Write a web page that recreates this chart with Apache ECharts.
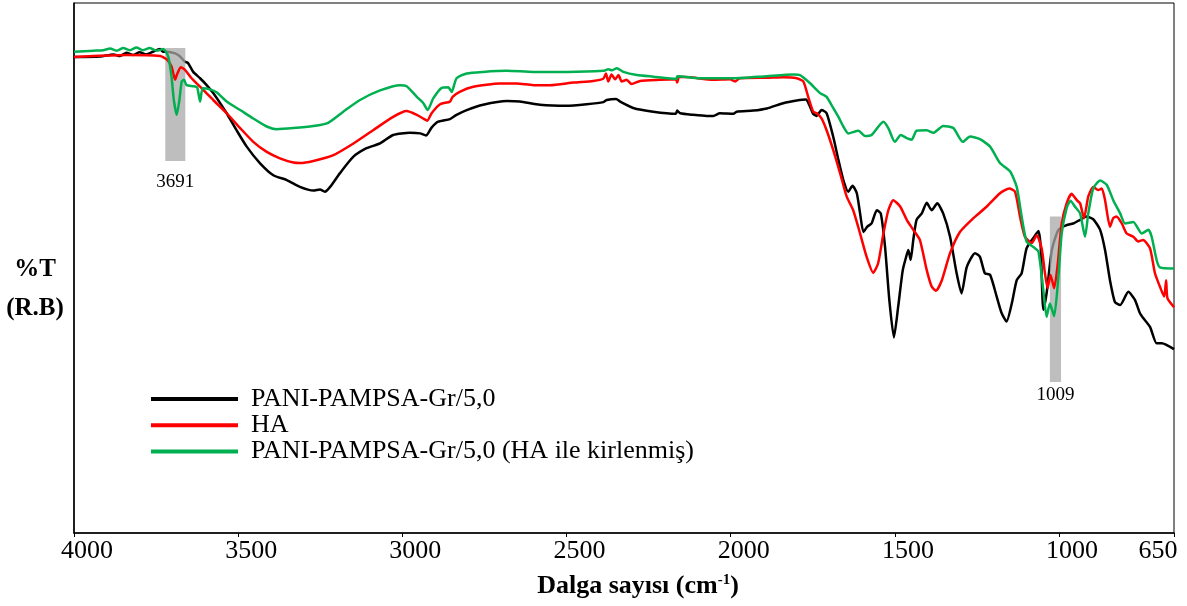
<!DOCTYPE html>
<html><head><meta charset="utf-8">
<script src="https://cdn.jsdelivr.net/npm/echarts/dist/echarts.min.js"></script>
<style>html,body{margin:0;padding:0;background:#fff}#c{width:1187px;height:606px}</style>
</head><body><div id="c"></div>
<script>
// ---- data: [wavenumber (cm-1), %T (relative)] ----
const seriesNames = ['PANI-PAMPSA-Gr/5,0', 'HA', 'PANI-PAMPSA-Gr/5,0 (HA ile kirlenmiş)'];

const black = [[4000,89.8],[3921,89.9],[3880,90.3],[3860,90.0],[3840,90.6],[3820,90.2],[3800,90.7],[3780,90.3],[3760,90.8],[3738,91.3],[3729,90.8],[3718,90.8],[3692,90.5],[3677,89.9],[3662,88.9],[3653,88.7],[3637,87.0],[3616,85.8],[3596,84.5],[3576,83.0],[3555,81.1],[3535,79.2],[3505,76.0],[3474,72.9],[3434,69.8],[3393,67.5],[3352,66.6],[3312,65.3],[3271,64.6],[3251,64.8],[3236,64.4],[3220,65.3],[3190,67.9],[3149,71.0],[3109,72.6],[3068,73.5],[3028,75.1],[2977,75.5],[2946,75.4],[2928,75.0],[2911,76.5],[2891,77.6],[2855,78.1],[2835,78.9],[2804,79.8],[2754,80.8],[2682,81.5],[2642,81.4],[2581,80.8],[2500,80.6],[2439,80.9],[2388,81.3],[2378,81.7],[2349,81.9],[2337,81.4],[2297,80.2],[2236,79.5],[2167,79.1],[2163,79.7],[2154,79.2],[2114,78.9],[2073,78.7],[2053,78.7],[2033,79.2],[1992,79.1],[1982,79.5],[1931,79.7],[1890,80.1],[1840,81.1],[1799,81.6],[1771,81.8],[1761,80.8],[1749,79.1],[1739,78.7],[1723,79.8],[1708,79.2],[1688,74.8],[1672,70.4],[1657,66.6],[1642,64.4],[1629,65.5],[1616,64.1],[1606,60.3],[1596,56.8],[1584,57.8],[1571,58.4],[1555,60.9],[1543,60.3],[1530,54.0],[1517,44.0],[1503,36.9],[1490,42.7],[1476,49.6],[1464,52.5],[1459,53.4],[1452,51.5],[1444,55.3],[1434,59.1],[1418,60.3],[1403,62.3],[1388,60.9],[1371,62.2],[1353,60.3],[1332,55.9],[1312,49.0],[1297,45.2],[1281,50.2],[1256,52.8],[1241,52.1],[1226,49.0],[1210,48.7],[1190,44.6],[1175,41.5],[1160,39.9],[1144,43.3],[1129,47.7],[1114,49.0],[1099,53.7],[1079,55.6],[1063,57.0],[1056,54.0],[1048,42.1],[1038,45.2],[1022,53.4],[1002,57.2],[977,58.1],[957,58.4],[936,59.1],[916,59.7],[896,59.2],[875,57.2],[860,53.4],[845,47.7],[830,43.6],[814,43.0],[789,45.5],[769,44.0],[754,41.5],[743,40.5],[723,38.9],[703,35.8],[687,35.8],[650,34.7]];

const red = [[4000,89.8],[3941,90.0],[3840,90.2],[3738,90.0],[3718,89.4],[3703,88.0],[3692,85.5],[3687,86.4],[3675,87.9],[3662,87.4],[3642,85.8],[3616,84.2],[3576,81.7],[3535,79.2],[3494,76.4],[3454,73.8],[3413,71.9],[3373,70.7],[3332,69.9],[3312,69.8],[3271,70.2],[3210,71.3],[3149,73.5],[3089,76.0],[3028,78.5],[2987,79.6],[2956,78.9],[2936,78.2],[2924,77.8],[2911,79.2],[2885,80.9],[2855,81.4],[2847,82.3],[2824,83.3],[2784,84.2],[2703,84.8],[2652,84.8],[2601,84.5],[2550,84.5],[2479,85.0],[2419,85.3],[2388,85.7],[2380,86.7],[2373,85.2],[2363,86.5],[2352,85.6],[2342,86.4],[2332,85.2],[2317,85.5],[2302,84.7],[2276,85.3],[2215,85.5],[2167,85.6],[2163,85.0],[2157,86.1],[2124,86.0],[2053,85.5],[2002,85.6],[1987,85.2],[1972,85.8],[1890,85.9],[1840,86.0],[1799,85.8],[1779,85.2],[1764,82.3],[1749,79.5],[1738,79.2],[1723,78.2],[1708,76.0],[1688,72.3],[1667,67.9],[1647,63.5],[1627,60.9],[1606,56.5],[1586,52.1],[1566,49.1],[1551,50.9],[1535,56.5],[1520,60.9],[1505,62.8],[1484,61.6],[1464,59.1],[1444,57.2],[1424,55.3],[1403,49.6],[1388,46.5],[1375,45.7],[1357,47.7],[1332,52.8],[1302,56.8],[1261,59.4],[1220,61.6],[1180,64.1],[1152,65.0],[1134,64.4],[1119,59.7],[1104,55.9],[1083,54.7],[1068,56.2],[1053,53.7],[1043,49.0],[1035,46.2],[1026,48.7],[1015,46.2],[1005,50.2],[992,58.4],[977,62.2],[962,64.0],[946,62.8],[936,62.2],[924,59.4],[911,63.5],[896,65.3],[881,64.7],[870,65.0],[860,62.8],[845,57.8],[835,59.4],[825,59.7],[809,58.4],[794,56.5],[774,55.9],[759,55.0],[744,55.3],[723,53.7],[708,49.0],[693,46.5],[680,44.6],[674,47.7],[670,44.3],[650,42.6]];

const green = [[4000,90.8],[3940,91.0],[3911,91.1],[3890,91.4],[3870,91.0],[3850,91.5],[3830,91.1],[3810,91.6],[3790,91.1],[3770,91.5],[3748,91.0],[3728,91.3],[3713,89.9],[3703,86.1],[3696,81.7],[3687,78.9],[3679,81.7],[3672,85.2],[3665,85.5],[3657,84.5],[3637,84.3],[3625,84.1],[3616,81.4],[3608,83.9],[3586,83.7],[3565,83.1],[3535,81.4],[3494,79.8],[3454,78.2],[3413,76.7],[3383,76.2],[3332,76.4],[3271,76.8],[3226,77.4],[3180,79.5],[3129,81.7],[3068,83.5],[3007,84.5],[2987,84.3],[2956,82.3],[2936,81.1],[2923,79.8],[2906,82.0],[2880,84.0],[2860,84.1],[2850,83.2],[2835,85.8],[2804,86.7],[2754,87.0],[2682,87.2],[2601,87.0],[2500,87.0],[2388,87.2],[2373,87.5],[2362,87.3],[2347,87.7],[2327,87.0],[2286,86.4],[2236,86.1],[2165,85.7],[2163,86.2],[2094,85.8],[1992,85.8],[1890,86.2],[1809,86.5],[1789,86.4],[1759,84.9],[1728,83.0],[1708,82.3],[1688,80.2],[1672,78.5],[1657,76.7],[1642,75.4],[1611,75.9],[1591,74.9],[1571,75.1],[1535,77.6],[1520,76.4],[1500,73.8],[1482,75.1],[1464,74.5],[1449,74.2],[1434,75.9],[1403,76.0],[1383,75.5],[1353,76.8],[1322,76.4],[1293,73.8],[1271,74.8],[1241,74.3],[1210,72.9],[1180,69.8],[1149,68.2],[1129,65.3],[1114,59.7],[1099,55.0],[1079,54.0],[1063,53.1],[1048,45.8],[1038,40.8],[1028,43.3],[1015,40.9],[1002,48.4],[992,56.5],[977,61.3],[965,62.7],[952,61.6],[936,60.3],[921,55.9],[911,60.3],[896,65.0],[875,66.5],[855,65.7],[835,62.8],[814,60.3],[799,58.4],[774,58.7],[748,56.5],[728,57.2],[718,55.9],[703,51.5],[693,50.1],[650,49.9]];

const xTicks = [4000, 3500, 3000, 2500, 2000, 1500, 1000, 650];
const bandLabels = ['3691', '1009'];
const bandFrom = [3722, 1028];
const bandTo = [3661, 994];
const bandTop = [91.5, 59.7];
const bandBottom = [70.2, 28.5];
const yTitleLines = ['%T', '(R.B)'];
const xTitleMain = 'Dalga sayısı (cm';
const xTitleSup = '-1';

// ---- chart ----
const serif = '"Liberation Serif", "Times New Roman", serif';
const chart = echarts.init(document.getElementById('c'), null, { renderer: 'canvas' });
const labelDist = [12, 4];

const option = {
  animation: false,
  backgroundColor: '#ffffff',
  grid: { left: 74, right: 13, top: 3, bottom: 73, show: true, borderColor: '#000', borderWidth: 1, backgroundColor: 'transparent' },
  xAxis: {
    type: 'value', inverse: true, min: 650, max: 4000,
    axisLine: { lineStyle: { color: '#000', width: 1.5 } },
    axisTick: { show: true, customValues: xTicks, length: 4, lineStyle: { color: '#000', width: 1 } },
    axisLabel: {
      customValues: xTicks, margin: 5, color: '#000', fontFamily: serif, fontSize: 26,
      formatter: v => (v === 650 ? '{r|' + v + '}' : '{n|' + v + '}'),
      rich: {
        n: { padding: [0, 0, 0, 26], fontFamily: serif, fontSize: 26, color: '#000' },
        r: { padding: [0, 32, 0, 0], fontFamily: serif, fontSize: 26, color: '#000' }
      }
    },
    splitLine: { show: false },
    name: '{t|' + xTitleMain + '}{s|' + xTitleSup + '}{t|)}',
    nameLocation: 'middle', nameGap: 40,
    nameTextStyle: {
      padding: [0, 0, 0, 28],
      rich: {
        t: { fontFamily: serif, fontSize: 26, fontWeight: 'bold', color: '#000', lineHeight: 26 },
        s: { fontFamily: serif, fontSize: 15, fontWeight: 'bold', color: '#000', verticalAlign: 'top', lineHeight: 15 }
      }
    }
  },
  yAxis: {
    type: 'value', min: 0, max: 100,
    axisLine: { show: true, lineStyle: { color: '#000', width: 1.5 } },
    axisTick: { show: false }, axisLabel: { show: false }, splitLine: { show: false }
  },
  legend: {
    data: seriesNames, orient: 'vertical', left: 151, top: 386, padding: 0,
    icon: 'rect', itemWidth: 87, itemHeight: 4, itemGap: 0.3, selectedMode: false,
    textStyle: { fontFamily: serif, fontSize: 26, color: '#000', lineHeight: 26, padding: [0, 0, 0, 8] }
  },
  graphic: yTitleLines.map((t, i) => ({
    type: 'text', x: 35, y: i === 0 ? 269.5 : 309,
    style: { text: t, fontFamily: serif, fontSize: 25, fontWeight: 'bold', fill: '#000', align: 'center', verticalAlign: 'middle' }
  })),
  series: [
    { name: seriesNames[0], type: 'line', data: black, symbol: 'none', smooth: 0.2, z: 1,
      lineStyle: { color: '#000000', width: 2.5 }, itemStyle: { color: '#000000' } },
    { name: 'bands', type: 'line', data: [], z: 2,
      markArea: {
        silent: true, z: 2,
        itemStyle: { color: 'rgba(168,168,168,0.75)' },
        label: { show: true, position: 'bottom', fontFamily: serif, fontSize: 19, color: '#000' },
        data: bandLabels.map((lb, i) => [
          { name: lb, xAxis: bandFrom[i], yAxis: bandTop[i], label: { distance: labelDist[i] } },
          { xAxis: bandTo[i], yAxis: bandBottom[i] }
        ])
      } },
    { name: seriesNames[1], type: 'line', data: red, symbol: 'none', smooth: 0.2, z: 3,
      lineStyle: { color: '#FF0000', width: 2.5 }, itemStyle: { color: '#FF0000' } },
    { name: seriesNames[2], type: 'line', data: green, symbol: 'none', smooth: 0.2, z: 4,
      lineStyle: { color: '#00B050', width: 2.5 }, itemStyle: { color: '#00B050' } }
  ]
};
chart.setOption(option);
</script>
</body></html>
